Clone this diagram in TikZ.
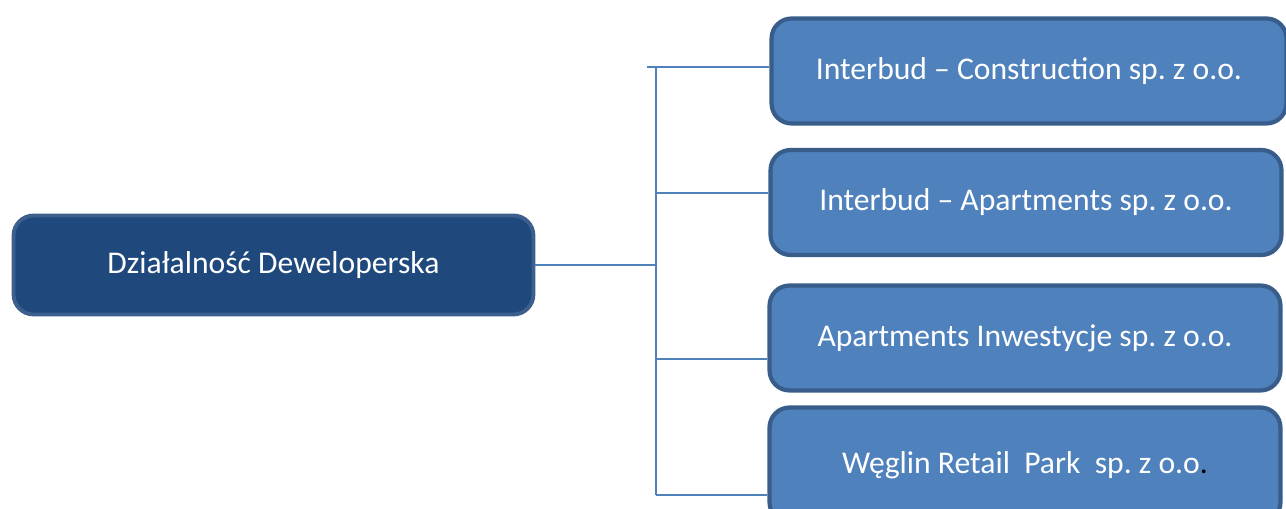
\documentclass[tikz,border=0pt]{standalone}
\usepackage{fontspec}
\setmainfont{Carlito}
\frenchspacing
\definecolor{rootfill}{HTML}{1F497D}
\definecolor{rootline}{HTML}{3C5F8E}
\definecolor{boxfill}{HTML}{4F81BD}
\definecolor{boxline}{HTML}{385D8A}
\tikzset{
  rootbox/.style={draw=rootline, fill=rootfill, line width=2.2pt, rounded corners=0.4cm,
    minimum width=10.4cm, minimum height=1.98cm, text=white, font=\fontsize{18}{22}\selectfont},
  firmbox/.style={draw=boxline, fill=boxfill, line width=2.4pt, rounded corners=0.4cm,
    minimum width=10.22cm, minimum height=2.1cm, text=white, font=\fontsize{18}{22}\selectfont},
  link/.style={draw=boxfill, line width=1.1pt}
}
\begin{document}
\begin{tikzpicture}[x=0.02cm, y=-0.02cm]
			%%%%% FRAME %%%%%
			\useasboundingbox (0,0) rectangle (1286,509);
			\clip (0,0) rectangle (1286,509);
			
			%%%%% BOXES %%%%%
			\node[rootbox] (root) at (273.5,265) {Działalność Deweloperska};
			
			\node[firmbox, minimum width=10.3cm] (constr) at (1029,71) {Interbud – Construction sp. z o.o.};
			\node[firmbox] (apart) at (1026,202.5) {Interbud – Apartments sp. z o.o.};
			\node[firmbox] (inwest) at (1025,338) {Apartments Inwestycje sp. z o.o.};
			\node[firmbox, minimum height=2.3cm] (weglin) at (1025,465) {Węglin Retail\ \ Park\ \ sp. z o.o{\color{black}.}};
			
			%%%%% CONNECTORS %%%%%
			\coordinate (top) at (656,67);
			\coordinate (bottom) at (656,495);
			\coordinate (j2) at (656,193);
			\coordinate (j3) at (656,359);
			
			\draw[link] (root.east) -- (root.east -| top);
			\draw[link] (top) -- (bottom);
			\draw[link] ([xshift=-5]top) -- (top -| constr.west);
			\draw[link] (j2) -- (j2 -| apart.west);
			\draw[link] (j3) -- (j3 -| inwest.west);
			\draw[link] (bottom) -- (bottom -| weglin.west);
			
		\end{tikzpicture}
\end{document}
